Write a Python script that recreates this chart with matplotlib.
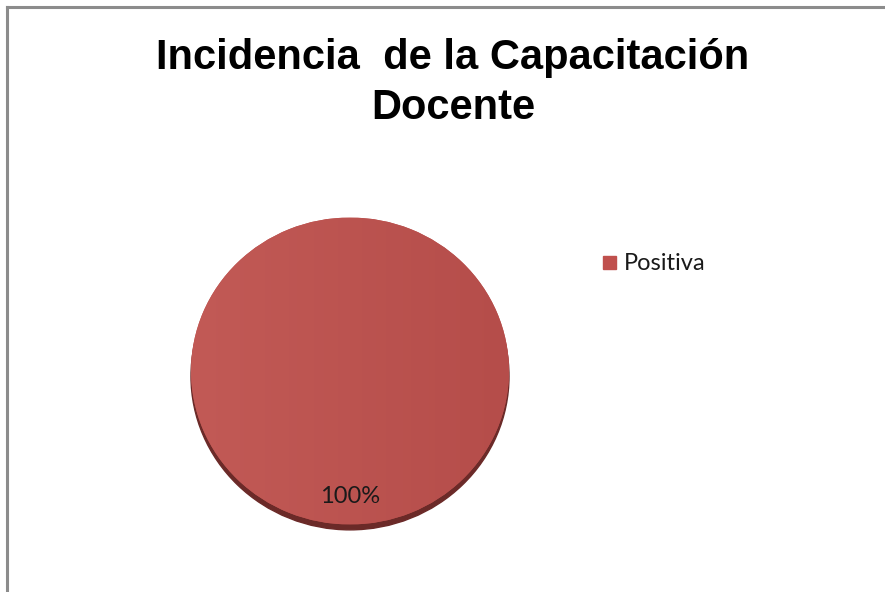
import numpy as np
import matplotlib.pyplot as plt
from matplotlib.patches import Ellipse, Rectangle
from matplotlib.colors import LinearSegmentedColormap

# datos
categorias = ['Positiva']
valores = [100]
titulo = 'Incidencia  de la Capacitación\nDocente'

W, H = 885, 592
fig = plt.figure(figsize=(W / 100, H / 100), dpi=100)
fig.patch.set_facecolor('white')

# marco gris (solo borde superior e izquierdo visibles)
fig.add_artist(plt.Line2D([7 / W, 7 / W], [0, 1 - 7 / H], color='#8c8c8c', lw=2.2,
                          transform=fig.transFigure))
fig.add_artist(plt.Line2D([7 / W, 1], [1 - 7 / H, 1 - 7 / H], color='#8c8c8c', lw=2.2,
                          transform=fig.transFigure))

# ejes del pastel: centro (350, 371), ancho 318, alto 307
cx, cy, pw, ph = 350, 371, 318, 307
ax = fig.add_axes([(cx - pw / 2) / W, 1 - (cy + ph / 2) / H, pw / W, ph / H])

# sombra
sombra = Ellipse((0, -0.035), 2, 2, color='#6b2a28', zorder=0, clip_on=False)
ax.add_patch(sombra)

wedges, texts, autotexts = ax.pie(valores, colors=['#bd524f'], startangle=90,
                                  radius=1, autopct='%1.0f%%', pctdistance=0.82,
                                  labeldistance=None,
                                  textprops={'family': 'Lato', 'fontsize': 17, 'color': '#1a1a1a'})
autotexts[0].set_position((0, -0.82))

# degradado suave de izquierda a derecha
cmap = LinearSegmentedColormap.from_list('g', ['#c25a56', '#b54d4a'])
grad = np.linspace(0, 1, 256).reshape(1, -1)
img = ax.imshow(grad, extent=(-1, 1, -1, 1), cmap=cmap, aspect='auto', zorder=1.5)
img.set_clip_path(wedges[0])
autotexts[0].set_zorder(3)

ax.set_aspect('auto')
ax.set_xlim(-1, 1)
ax.set_ylim(-1, 1)
ax.axis('off')

fig.text(453 / W, 1 - 83 / H, titulo, ha='center', va='center', fontsize=30,
         fontweight='bold', family='Liberation Sans', linespacing=1.35)

# leyenda
fig.add_artist(Rectangle((603 / W, 1 - 269 / H), 13 / W, 13 / H, color='#c0504d',
                         transform=fig.transFigure))
fig.text(624 / W, 1 - 263 / H, categorias[0], ha='left', va='center', fontsize=17,
         family='Lato', color='#1a1a1a')

fig.savefig('out.png', dpi=100)
